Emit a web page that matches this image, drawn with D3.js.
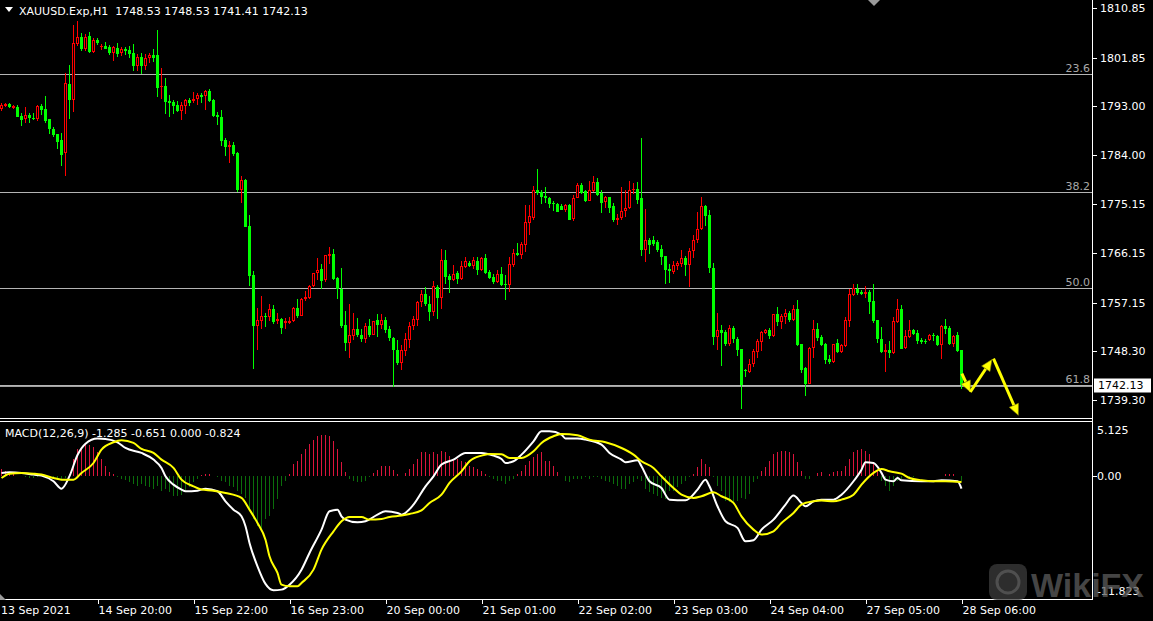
<!DOCTYPE html>
<html><head><meta charset="utf-8">
<script src="https://cdn.jsdelivr.net/npm/d3@7"></script>
<style>
html,body{margin:0;padding:0;background:#000;overflow:hidden}
svg{display:block}
text{font-family:"DejaVu Sans",sans-serif;font-size:11px}
</style></head><body>
<svg id="c" width="1153" height="621"></svg>
<script>
const symbolTitle = "XAUUSD.Exp,H1";
const opens = [1792.40,1793.01,1793.37,1792.70,1792.76,1791.18,1790.63,1791.30,1790.88,1790.57,
1793.01,1792.46,1790.57,1788.74,1787.89,1786.80,1784.36,1797.03,1794.10,1804.34,
1805.55,1803.36,1805.80,1802.93,1805.07,1803.73,1804.03,1803.73,1802.63,1803.54,
1802.63,1803.48,1803.24,1802.63,1800.38,1801.90,1800.38,1801.72,1802.33,1802.33,
1796.48,1796.66,1793.92,1793.80,1793.19,1792.16,1793.07,1794.10,1793.98,1794.23,
1795.02,1794.83,1795.75,1794.10,1791.36,1791.06,1786.80,1785.58,1785.88,1784.36,
1777.78,1779.49,1771.08,1762.13,1752.87,1753.79,1754.71,1754.52,1756.05,1753.73,
1754.10,1753.49,1753.49,1753.79,1756.23,1754.71,1757.75,1758.00,1760.19,1762.56,
1763.23,1761.22,1765.61,1765.97,1761.65,1759.70,1753.00,1749.77,1751.05,1752.39,
1751.30,1750.44,1752.82,1751.30,1754.04,1753.12,1754.04,1752.27,1750.75,1748.55,
1746.12,1748.31,1750.38,1752.88,1754.04,1757.26,1758.66,1756.84,1755.44,1760.00,
1758.06,1764.88,1761.95,1761.34,1762.62,1761.53,1763.66,1764.39,1763.84,1764.75,
1763.05,1765.36,1762.68,1761.83,1760.92,1762.44,1760.49,1760.31,1764.08,1766.28,
1765.91,1767.74,1771.70,1772.67,1777.67,1777.29,1776.56,1776.32,1775.34,1775.10,
1774.73,1774.13,1774.92,1772.36,1776.32,1778.57,1777.48,1775.71,1777.54,1779.06,
1777.23,1775.53,1776.38,1774.73,1772.30,1772.66,1773.82,1774.43,1777.66,1777.96,
1776.14,1766.82,1768.52,1768.52,1768.16,1766.88,1765.60,1763.22,1762.74,1763.83,
1764.26,1765.23,1763.96,1766.51,1768.52,1770.53,1774.73,1773.09,1763.53,1750.86,
1752.08,1751.78,1749.64,1752.57,1750.56,1748.61,1744.78,1744.48,1746.00,1748.13,
1749.96,1751.60,1752.09,1751.05,1755.01,1753.61,1754.52,1755.25,1753.92,1755.93,
1749.53,1745.21,1742.34,1748.86,1752.39,1750.87,1749.53,1746.79,1746.30,1749.77,
1748.13,1749.23,1753.79,1758.54,1759.70,1759.09,1758.79,1759.09,1757.39,1753.92,
1750.57,1748.13,1748.43,1747.95,1753.61,1755.93,1748.86,1750.87,1752.09,1751.60,
1750.26,1750.14,1750.26,1751.17,1751.05,1749.35,1752.82,1752.51,1749.53,1751.17,
1748.53];
const highs = [1793.49,1793.49,1793.49,1793.19,1793.13,1791.79,1792.76,1791.67,1791.79,1793.19,
1793.37,1794.83,1790.57,1789.11,1787.89,1788.01,1798.98,1800.50,1807.81,1808.54,
1806.28,1806.10,1806.47,1805.37,1805.37,1804.34,1804.64,1804.15,1803.97,1804.46,
1803.73,1803.85,1803.97,1804.34,1802.45,1802.63,1802.45,1802.63,1803.42,1806.89,
1799.89,1798.06,1795.02,1794.10,1793.92,1793.80,1794.29,1794.41,1795.63,1795.44,
1795.32,1795.93,1796.11,1794.29,1791.85,1792.28,1787.10,1786.61,1786.37,1784.54,
1780.22,1779.73,1773.09,1762.92,1756.16,1758.30,1755.25,1756.96,1756.65,1755.31,
1754.34,1754.34,1754.52,1756.35,1757.87,1758.06,1759.21,1760.43,1762.62,1765.30,
1764.15,1765.91,1767.31,1766.89,1761.83,1763.48,1755.56,1756.84,1755.25,1754.34,
1752.39,1753.49,1754.10,1753.73,1755.01,1755.01,1754.52,1752.88,1750.87,1750.26,
1749.47,1751.66,1753.61,1754.64,1757.39,1759.40,1760.00,1758.30,1761.04,1760.31,
1766.89,1766.70,1762.44,1763.96,1762.87,1764.69,1765.49,1764.69,1765.49,1765.49,
1765.49,1765.97,1763.17,1762.44,1763.05,1763.66,1762.14,1765.49,1766.89,1768.10,
1768.23,1774.92,1774.92,1778.40,1781.50,1777.78,1778.15,1776.44,1775.71,1775.34,
1775.22,1775.10,1775.22,1776.74,1779.00,1778.88,1777.66,1779.30,1780.22,1779.97,
1777.78,1776.68,1776.44,1775.34,1773.40,1778.27,1777.78,1779.30,1779.00,1779.18,
1787.16,1774.31,1768.95,1769.25,1768.52,1767.61,1765.60,1764.14,1764.69,1764.69,
1766.70,1765.60,1767.12,1769.44,1773.70,1776.44,1774.92,1774.00,1764.38,1755.25,
1752.99,1752.20,1752.99,1752.81,1750.86,1748.61,1745.08,1746.91,1748.74,1750.57,
1751.91,1752.39,1752.58,1755.13,1756.35,1755.13,1756.05,1755.62,1756.66,1757.57,
1749.65,1745.39,1749.04,1753.92,1753.49,1751.17,1749.77,1747.52,1749.65,1750.44,
1749.53,1754.52,1759.70,1760.61,1760.49,1759.52,1760.13,1759.40,1760.49,1753.92,
1752.70,1749.53,1750.08,1754.52,1757.75,1756.66,1752.09,1753.92,1752.39,1752.09,
1750.75,1750.57,1751.36,1751.60,1751.17,1753.00,1754.22,1752.82,1751.17,1751.78,
1748.53];
const lows = [1792.16,1792.89,1792.58,1792.40,1790.94,1789.35,1789.96,1789.96,1790.45,1790.33,
1791.36,1789.96,1787.89,1787.28,1785.15,1782.05,1780.22,1790.63,1791.91,1803.97,
1803.06,1803.12,1802.75,1802.75,1804.15,1803.24,1803.36,1802.33,1801.29,1801.90,
1802.20,1802.33,1801.72,1799.46,1799.40,1798.79,1799.59,1800.80,1801.11,1794.71,
1794.29,1791.55,1791.06,1791.55,1791.97,1790.45,1791.55,1793.01,1793.49,1793.19,
1793.49,1792.28,1793.80,1790.94,1789.54,1785.70,1783.87,1782.65,1783.93,1777.36,
1775.35,1770.96,1760.18,1744.96,1748.43,1752.27,1752.70,1753.73,1753.18,1753.18,
1751.36,1752.27,1753.18,1753.61,1754.40,1754.71,1757.39,1757.87,1760.00,1761.22,
1759.70,1760.92,1764.27,1761.22,1757.75,1752.51,1748.31,1747.03,1750.26,1750.87,
1749.96,1749.77,1750.87,1751.17,1750.87,1752.27,1751.66,1750.08,1741.73,1745.69,
1744.90,1747.40,1748.92,1752.09,1752.88,1756.35,1756.53,1753.73,1754.64,1754.10,
1755.92,1760.61,1758.91,1761.10,1760.49,1761.34,1763.48,1763.66,1763.35,1762.14,
1762.93,1762.32,1761.53,1760.61,1760.73,1760.19,1757.57,1759.09,1763.66,1765.61,
1765.06,1766.40,1769.44,1772.18,1776.75,1775.10,1775.34,1774.49,1773.88,1773.64,
1774.00,1773.70,1772.18,1772.06,1776.20,1777.05,1775.53,1775.65,1777.35,1776.62,
1773.52,1774.49,1773.52,1771.87,1771.26,1772.30,1772.79,1774.31,1777.05,1775.22,
1765.60,1764.56,1765.97,1767.43,1766.39,1763.96,1760.48,1760.79,1762.43,1763.04,
1763.65,1762.01,1760.00,1765.36,1768.04,1770.35,1771.14,1762.55,1749.34,1748.55,
1745.56,1749.16,1749.16,1749.77,1747.33,1737.77,1743.56,1744.29,1745.39,1747.09,
1748.31,1751.36,1750.44,1750.87,1752.82,1752.27,1753.31,1753.61,1753.73,1749.16,
1744.35,1740.03,1742.34,1747.09,1750.14,1749.23,1746.00,1746.00,1746.12,1748.01,
1747.95,1749.04,1752.70,1758.36,1758.48,1758.48,1758.06,1755.01,1753.49,1749.77,
1747.95,1744.48,1747.09,1747.83,1753.43,1748.62,1748.74,1750.75,1751.17,1749.65,
1749.53,1749.65,1750.08,1750.08,1749.16,1746.79,1751.48,1749.35,1749.04,1748.13,
1741.41];
const closes = [1793.19,1793.37,1792.76,1793.01,1791.06,1790.45,1791.30,1790.82,1790.63,1793.01,
1792.28,1790.27,1788.74,1787.71,1786.49,1784.06,1797.15,1794.10,1804.46,1805.55,
1803.36,1805.55,1802.93,1805.07,1804.46,1804.03,1803.42,1802.63,1803.73,1802.51,
1803.36,1803.12,1802.51,1800.32,1801.90,1800.38,1801.72,1802.33,1801.84,1796.36,
1796.66,1793.80,1793.62,1793.01,1792.16,1793.19,1794.10,1793.62,1794.29,1795.02,
1794.71,1795.75,1793.98,1791.18,1790.94,1786.67,1785.58,1785.88,1784.24,1777.66,
1779.49,1770.96,1762.01,1752.87,1753.91,1754.64,1754.52,1756.05,1753.61,1754.10,
1752.51,1753.73,1753.73,1756.23,1754.64,1757.87,1758.18,1760.19,1762.62,1763.05,
1761.10,1765.79,1765.97,1761.40,1759.70,1752.88,1749.77,1751.17,1752.39,1751.17,
1750.44,1752.82,1751.17,1753.73,1753.12,1753.91,1752.21,1750.75,1748.43,1746.12,
1748.43,1750.44,1752.88,1754.10,1757.26,1758.66,1756.96,1755.44,1760.13,1758.06,
1764.88,1761.83,1761.34,1762.44,1761.53,1763.78,1764.69,1763.84,1764.88,1763.05,
1765.36,1762.56,1761.71,1760.92,1762.44,1760.43,1760.31,1764.15,1766.28,1765.79,
1767.80,1771.76,1772.91,1777.67,1777.18,1776.44,1776.26,1775.22,1775.10,1773.70,
1774.13,1774.92,1772.30,1776.32,1778.57,1777.17,1775.65,1777.66,1779.06,1776.74,
1775.34,1776.38,1774.49,1772.18,1772.66,1773.82,1774.49,1777.78,1777.96,1775.95,
1766.70,1768.52,1767.61,1767.91,1766.70,1765.48,1763.04,1762.92,1764.08,1764.32,
1765.36,1763.96,1766.51,1768.64,1770.66,1774.73,1772.97,1763.47,1750.86,1752.08,
1751.59,1749.52,1752.57,1750.49,1748.55,1742.03,1744.60,1746.00,1748.25,1750.08,
1751.72,1752.09,1751.05,1755.01,1753.61,1754.71,1755.25,1753.92,1755.93,1749.35,
1744.78,1742.34,1748.86,1752.39,1750.75,1749.35,1746.61,1746.30,1749.53,1748.13,
1749.35,1753.92,1758.66,1759.82,1758.91,1758.79,1759.09,1757.26,1753.73,1750.44,
1748.13,1748.43,1747.95,1753.73,1755.93,1748.74,1751.00,1752.09,1751.36,1750.08,
1749.96,1749.96,1751.17,1751.05,1749.35,1752.82,1752.39,1749.53,1751.00,1748.31,
1742.13];

const priceTickLabels = ["1810.85","1801.85","1793.00","1784.00","1775.15","1766.15","1757.15","1748.30","1739.30"];
const fibLabels = ["23.6","38.2","50.0","61.8"];
const fibPrices = [1798.80, 1777.24, 1759.76, 1742.09];

const timeLabels = ["13 Sep 2021","14 Sep 20:00","15 Sep 22:00","16 Sep 23:00","20 Sep 00:00","21 Sep 01:00","22 Sep 02:00","23 Sep 03:00","24 Sep 04:00","27 Sep 05:00","28 Sep 06:00"];
const timeLabelBars = [0,24,48,72,96,120,144,168,192,216,240];

const macdTitle = "MACD(12,26,9)";
const macdHeaderValues = ["-1.285","-0.651","0.000","-0.824"];
const macdTickLabels = ["5.125","0.00","-11.823"];
const macdTickValues = [5.125, 0, -11.823];

const macdBars = [0,2,5,8,10,13,15,17,19,21,24,26,29,31,35,38,40,41,43,45,46,49,51,54,56,58,60,61,62,64,66,68,70,72,75,77,80,82,84,85,86,89,91,94,96,99,100,103,106,108,110,113,116,120,123,125,126,128,130,133,135,137,140,141,144,146,150,152,155,156,159,160,162,165,167,171,174,176,177,179,181,184,186,188,190,193,196,198,200,201,203,205,208,210,213,215,216,218,220,221,223,224,225,230,233,235,239,240];
const macdVals = [0.21,0.27,0.21,0.05,-0.05,-0.58,-1.28,-0.1,1.9,2.98,3.46,3.43,3.11,2.57,2.10,1.47,0.68,-0.11,-0.90,-1.37,-1.53,-1.47,-1.28,-1.53,-2.48,-3.27,-3.90,-4.84,-6.42,-8.63,-10.3,-10.90,-10.84,-10.37,-8.95,-7.37,-5.16,-3.42,-3.27,-3.90,-4.21,-4.47,-4.37,-3.74,-3.42,-3.58,-3.74,-2.79,-1.06,-0.11,1.00,1.47,2.10,2.10,1.85,1.53,1.15,1.31,1.94,3.20,4.15,4.15,3.84,3.46,3.46,3.36,2.89,2.10,1.47,1.22,1.41,0.84,-0.58,-1.22,-2.32,-2.38,-1.37,-0.43,-1.06,-2.95,-4.37,-5.00,-6.27,-6.17,-5.16,-4.21,-2.79,-1.94,-2.64,-2.95,-2.48,-2.32,-2.32,-1.85,-0.58,0.52,1.22,1.15,0.21,-0.43,-0.58,-0.27,-0.49,-0.58,-0.58,-0.49,-0.58,-1.285];

const signalBars = [0,2,5,8,10,13,15,18,20,23,25,28,30,33,35,38,40,43,45,48,50,53,56,60,62,64,66,67,69,70,72,74,75,78,80,83,85,87,90,92,95,97,100,102,105,107,110,112,115,117,120,122,125,127,130,133,135,138,140,144,147,151,155,158,160,163,165,168,170,173,175,178,180,183,185,188,190,193,195,198,200,203,205,208,210,213,215,218,220,222,225,227,230,233,236,240];
const signalVals = [-0.27,0.14,0.21,0.14,0.05,-0.27,-0.43,-0.43,0.21,1.15,2.42,3.11,3.30,3.05,2.48,2.10,1.47,0.68,-0.43,-1.06,-1.37,-1.47,-1.69,-2.16,-3.27,-4.53,-6.11,-7.69,-9.26,-10.37,-10.53,-10.53,-10.21,-8.95,-7.05,-5.32,-4.37,-3.96,-3.96,-4.21,-4.15,-3.96,-3.83,-3.68,-3.33,-2.63,-1.85,-0.74,0.36,1.31,1.85,2.00,1.97,1.63,1.63,2.26,3.05,3.68,3.90,3.77,3.36,3.11,2.57,1.94,1.31,0.68,-0.11,-1.22,-1.85,-2.16,-2.00,-1.63,-2.00,-2.63,-3.90,-5.16,-5.63,-5.32,-4.53,-3.58,-2.79,-2.48,-2.41,-2.48,-2.32,-1.85,-0.90,0.21,0.59,0.36,0.14,-0.27,-0.49,-0.58,-0.58,-0.651];

const histVals = [0.57,0.4,0.2,0.1,0,
-0.1,-0.2,-0.25,-0.3,-0.2,-0.1,-0.05,-0.2,-0.35,-0.45,-0.5,-0.3,0.1,
1.5,2.46,2.62,2.94,2.84,2.62,2.15,1.5,0.88,0.32,0.1,
-0.13,-0.32,-0.44,-0.63,-0.85,-1.01,-0.85,-1.01,-1.17,-1.33,-1.01,-1.48,-1.33,-1.64,-1.96,-2.02,-1.89,-1.58,-1.17,-0.69,-0.32,
0.05,0.1,0.1,0,
-0.22,-0.54,-0.69,-1.01,-1.17,-1.48,-1.8,-2.12,-3.22,-4.17,-4.8,-5.27,-4.17,-3.85,-3.22,-2.27,-1.01,-0.54,
0.1,1.04,1.36,1.99,2.46,2.94,3.35,3.72,3.79,3.79,3.72,3.25,2.46,1.2,0.25,
-0.32,-0.54,-0.69,-0.69,-0.54,-0.22,
0.19,0.5,0.82,0.88,0.82,0.5,0.1,
0,0.2,
0.57,1.04,1.52,2.15,2.15,1.99,2.15,1.99,2.3,2.15,1.83,1.52,1.52,1.36,1.2,0.88,0.73,0.57,0.41,0.1,
-0.22,-0.38,-0.54,
-0.54,-0.85,-0.54,-0.32,
0.1,0.41,0.95,1.36,1.67,1.99,2.15,1.36,1.36,0.88,0.25,
0,
-0.54,-0.69,-0.38,-0.32,-0.32,-0.22,-0.32,-0.22,-0.13,-0.32,-0.54,-0.69,-0.85,-1.01,-1.33,-1.33,-0.85,-0.69,-0.32,-0.54,-1.33,-1.64,-1.8,-1.96,-2.12,-2.27,-1.48,-1.48,-1.17,-0.85,-0.54,-0.22,
0.1,0.73,1.52,1.04,0.73,
-0.22,-1.01,-1.48,-2.43,-2.59,-2.59,-2.43,-2.12,-2.27,-1.8,-0.69,-0.32,
0.41,0.73,1.36,1.99,2.15,2.3,2.3,2.15,1.99,1.2,0.41,
-0.32,-0.38,
0,
0.19,0.25,0.0,0.1,0.25,0.41,0.41,0.88,1.52,2.15,2.4,2.46,2.3,1.99,1.2,0.41,
-0.54,-1.01,-1.48,-1.01,-0.54,-0.38,-0.22,-0.13,-0.13,-0.06,-0.06,-0.06,-0.06,-0.06,-0.06,0,0.15,0.1,0.1,0,-0.6];

// forecast arrows drawn on chart: [bar, price] pairs
const arrowStarts = [[240.1,1744.18],[242.2,1740.82],[248.0,1746.92]];
const arrowEnds   = [[242.2,1740.82],[247.6,1746.73],[254.2,1736.56]];

const W = 1153, H = 621;
const svg = d3.select("#c");
svg.append("rect").attr("width", W).attr("height", H).attr("fill", "#000");

const n = opens.length;
const x = d3.scaleLinear().domain([0, 240]).range([1.5, 961.5]);
const y = d3.scaleLinear().domain([1739.30, 1810.85]).range([400.33, 8.33]);
const m = d3.scaleLinear().domain([-11.823, 5.125]).range([600, 421]);

const axisX = 1092.5;

// --- main pane ---
const main = svg.append("g");
// fib lines
fibPrices.forEach((p, k) => {
  const yy = Math.round(y(p)) + 0.5;
  main.append("line").attr("x1", 0).attr("x2", axisX).attr("y1", yy).attr("y2", yy)
    .attr("stroke", "#b4b4b4").attr("stroke-width", 1).attr("shape-rendering", "crispEdges");
  main.append("text").attr("x", 1090).attr("y", yy - 3).attr("text-anchor", "end")
    .attr("fill", "#a8a8a8").text(fibLabels[k]);
});
// bid line
{
  const yy = Math.round(y(closes[n - 1])) + 1.5;
  main.append("line").attr("x1", 0).attr("x2", axisX).attr("y1", yy).attr("y2", yy)
    .attr("stroke", "#a0a0a0").attr("stroke-width", 1).attr("shape-rendering", "crispEdges");
}

const idx = d3.range(n);
const cg = main.append("g").attr("shape-rendering", "crispEdges");
idx.forEach(i => {
  const o = opens[i], c = closes[i], hi = highs[i], lo = lows[i];
  const bull = c > o;
  const col = bull ? "#ff0000" : "#00ff00";
  const cx = x(i);
  cg.append("line").attr("x1", cx).attr("x2", cx).attr("y1", y(hi)).attr("y2", y(lo))
    .attr("stroke", col).attr("stroke-width", 1);
  const top = Math.round(y(Math.max(o, c)));
  const bot = Math.round(y(Math.min(o, c)));
  const h = Math.max(1, bot - top);
  if (bull) {
    cg.append("rect").attr("x", cx - 1).attr("y", top + 0.5).attr("width", 2).attr("height", Math.max(0.01, h - 1))
      .attr("fill", "#000").attr("stroke", col).attr("stroke-width", 1);
  } else {
    cg.append("rect").attr("x", cx - 1.5).attr("y", top).attr("width", 3).attr("height", h)
      .attr("fill", col);
  }
});

// arrows
const ag = main.append("g");
arrowStarts.forEach((s, k) => {
  const e = arrowEnds[k];
  const x1 = x(s[0]), y1 = y(s[1]), x2 = x(e[0]), y2 = y(e[1]);
  const ang = Math.atan2(y2 - y1, x2 - x1);
  const L = 11, Wd = 5;
  const bx = x2 - L * Math.cos(ang), by = y2 - L * Math.sin(ang);
  ag.append("line").attr("x1", x1).attr("y1", y1).attr("x2", bx).attr("y2", by)
    .attr("stroke", "#ffff00").attr("stroke-width", 3);
  const p1 = [bx + Wd * Math.sin(ang), by - Wd * Math.cos(ang)];
  const p2 = [bx - Wd * Math.sin(ang), by + Wd * Math.cos(ang)];
  ag.append("polygon").attr("points", [[x2, y2], p1, p2].map(p => p.join(",")).join(" "))
    .attr("fill", "#ffff00").attr("stroke", "#8a8a00").attr("stroke-width", 0.6);
});

// header
svg.append("path").attr("d", "M5,7 L13,7 L9,12 Z").attr("fill", "#fff");
svg.append("text").attr("x", 19).attr("y", 15).attr("fill", "#fff").attr("xml:space", "preserve")
  .text(symbolTitle + "  " + [opens[n-1], highs[n-1], lows[n-1], closes[n-1]].map(v => v.toFixed(2)).join(" "));

// chart shift marker
svg.append("path").attr("d", "M868,0 L880,0 L874,6 Z").attr("fill", "#9a9a9a");

// price axis
const lines = svg.append("g").attr("shape-rendering", "crispEdges");
lines.append("line").attr("x1", axisX).attr("x2", axisX).attr("y1", 0).attr("y2", 600).attr("stroke", "#fff");
lines.append("line").attr("x1", 0).attr("x2", axisX).attr("y1", 418.5).attr("y2", 418.5).attr("stroke", "#fff");
lines.append("line").attr("x1", 0).attr("x2", axisX).attr("y1", 421.5).attr("y2", 421.5).attr("stroke", "#fff");
lines.append("line").attr("x1", 0).attr("x2", axisX).attr("y1", 599.5).attr("y2", 599.5).attr("stroke", "#fff");

priceTickLabels.forEach(t => {
  const yy = Math.round(y(+t)) + 0.5;
  lines.append("line").attr("x1", axisX).attr("x2", axisX + 4).attr("y1", yy).attr("y2", yy).attr("stroke", "#fff");
  svg.append("text").attr("x", 1100).attr("y", yy).attr("dy", "0.36em").attr("fill", "#fff").text(t);
});
// current price box
{
  const yy = Math.round(y(closes[n - 1])) + 0.5;
  svg.append("rect").attr("x", 1094).attr("y", yy - 7).attr("width", 57).attr("height", 14).attr("fill", "#fff");
  svg.append("text").attr("x", 1098).attr("y", yy).attr("dy", "0.36em").attr("fill", "#000").text(closes[n - 1].toFixed(2));
}

// --- MACD pane ---
const mg = svg.append("g");
const z0 = Math.round(m(0)) + 0.5;
const hg = mg.append("g").attr("shape-rendering", "crispEdges");
histVals.forEach((v, i) => {
  if (v === 0) return;
  hg.append("line").attr("x1", x(i)).attr("x2", x(i)).attr("y1", z0).attr("y2", m(v))
    .attr("stroke", v > 0 ? "#dc143c" : "#0b6e0b").attr("stroke-width", 1);
});
const lineGen = d3.line().x(d => x(d[0])).y(d => m(d[1])).curve(d3.curveMonotoneX);
mg.append("path").attr("d", lineGen(macdBars.map((b, k) => [b, macdVals[k]])))
  .attr("fill", "none").attr("stroke", "#ffffff").attr("stroke-width", 2);
mg.append("path").attr("d", lineGen(signalBars.map((b, k) => [b, signalVals[k]])))
  .attr("fill", "none").attr("stroke", "#ffff00").attr("stroke-width", 2);

svg.append("text").attr("x", 5).attr("y", 437).attr("fill", "#fff")
  .text(macdTitle + " " + macdHeaderValues.join(" "));

macdTickValues.forEach((v, k) => {
  let yy = m(v);
  if (k === 0) yy = m(v) + 9;
  if (k === 2) yy = m(v) - 9;
  if (k === 1) lines.append("line").attr("x1", axisX).attr("x2", axisX + 4).attr("y1", z0 + 1).attr("y2", z0 + 1).attr("stroke", "#fff");
  svg.append("text").attr("x", 1097).attr("y", k === 1 ? z0 + 1 : yy).attr("dy", "0.36em").attr("fill", "#fff").text(macdTickLabels[k]);
});

// time axis
timeLabelBars.forEach((b, k) => {
  const xx = Math.round(x(b)) + 0.5;
  if (k > 0) lines.append("line").attr("x1", xx).attr("x2", xx).attr("y1", 600).attr("y2", 604).attr("stroke", "#fff");
  svg.append("text").attr("x", k === 0 ? 1 : xx).attr("y", 614).attr("fill", "#fff").text(timeLabels[k]);
});
svg.append("path").attr("d", "M0,594 L0,600 L6,600 Z").attr("fill", "#9a9a9a");

// watermark
const wm = svg.append("g").attr("opacity", 0.75);
wm.append("rect").attr("x", 989).attr("y", 564).attr("width", 38).attr("height", 36).attr("rx", 8)
  .attr("fill", "#3c3c3c");
wm.append("circle").attr("cx", 1008).attr("cy", 582).attr("r", 11).attr("fill", "none").attr("stroke", "#6a6a6a").attr("stroke-width", 3);
wm.append("text").attr("x", 1031).attr("y", 597).attr("fill", "#5c5c5c")
  .style("font-size", "34px").style("font-weight", "bold").style("font-family", "Liberation Sans, Arial, sans-serif").text("WikiFX");
</script>
</body></html>
